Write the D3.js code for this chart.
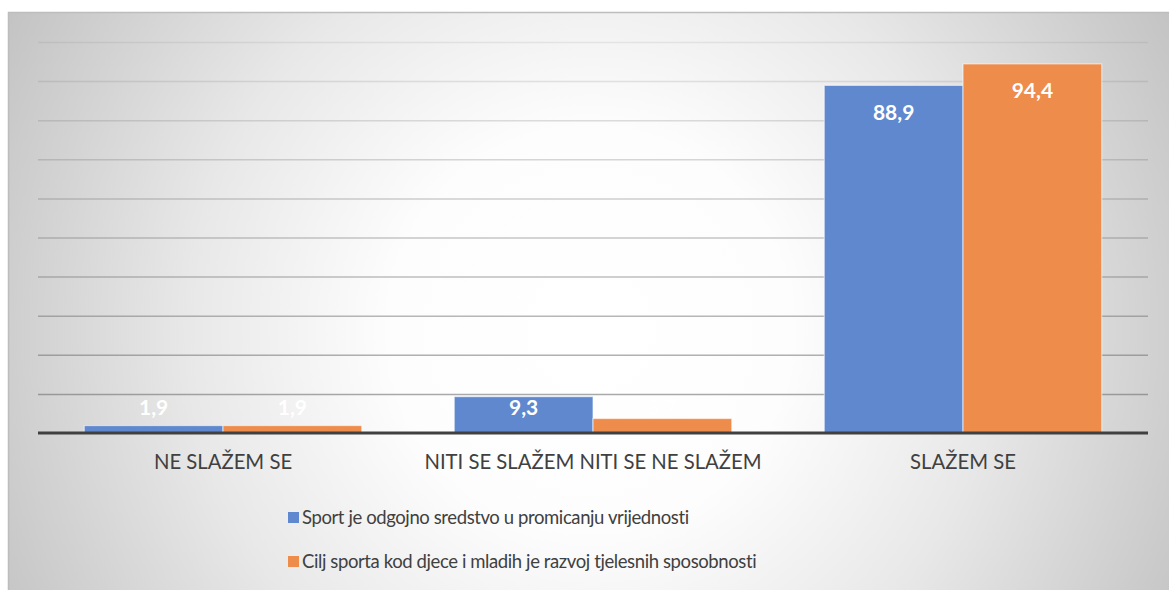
<!DOCTYPE html>
<html>
<head>
<meta charset="utf-8">
<script src="https://cdn.jsdelivr.net/npm/d3@7"></script>
<style>
  body { margin: 0; background: #fff; }
  svg { display: block; font-family: Lato, "Open Sans", sans-serif; }
</style>
</head>
<body>
<div class="canvas"></div>
<script>
// data
const categories = ['NE SLAŽEM SE', 'NITI SE SLAŽEM NITI SE NE SLAŽEM', 'SLAŽEM SE'];
const seriesNames = [
  'Sport je odgojno sredstvo u promicanju vrijednosti',
  'Cilj sporta kod djece i mladih je razvoj tjelesnih sposobnosti'
];
const sportValues = [1.9, 9.3, 88.9];
const ciljValues = [1.9, 3.7, 94.4];
const yTicks = [0, 10, 20, 30, 40, 50, 60, 70, 80, 90, 100];

const colors = ['#5f88cf', '#ee8c4c'];

const width = 1169, height = 590;
const margin = { top: 42, right: 21, bottom: 157, left: 38 };

const svg = d3.select('.canvas')
  .append('svg')
  .attr('width', width)
  .attr('height', height);

// background gradient
const defs = svg.append('defs');
const grad = defs.append('radialGradient')
  .attr('id', 'bg')
  .attr('gradientUnits', 'userSpaceOnUse')
  .attr('cx', 590).attr('cy', 330).attr('r', 670);
grad.append('stop').attr('offset', '0%').attr('stop-color', '#ffffff');
grad.append('stop').attr('offset', '30%').attr('stop-color', '#fdfdfd');
grad.append('stop').attr('offset', '60%').attr('stop-color', '#e8e8e8');
grad.append('stop').attr('offset', '100%').attr('stop-color', '#c2c2c2');

svg.append('rect')
  .attr('x', 8).attr('y', 12)
  .attr('width', width - 8).attr('height', height - 12)
  .attr('fill', 'url(#bg)');
// top + left border
svg.append('path')
  .attr('d', `M8.5,${height} V12.5 H${width}`)
  .attr('fill', 'none')
  .attr('stroke', '#bdbdbd')
  .attr('stroke-width', 1.5);

const graphWidth = width - margin.left - margin.right;
const graphHeight = height - margin.top - margin.bottom;
const graph = svg.append('g')
  .attr('transform', `translate(${margin.left}, ${margin.top})`);

// scales
const y = d3.scaleLinear().domain([0, 100]).range([graphHeight, 0]);
const x0 = d3.scaleBand()
  .domain(categories)
  .range([0, graphWidth])
  .paddingInner(0.25)
  .paddingOuter(0.125);
const x1 = d3.scaleBand()
  .domain([0, 1])
  .range([0, x0.bandwidth()]);

// gridlines
const opac = d3.scaleLinear().domain([100, 10]).range([0.12, 0.6]);
graph.append('g')
  .selectAll('line')
  .data(yTicks.filter(d => d > 0))
  .enter().append('line')
  .attr('x1', 0).attr('x2', graphWidth)
  .attr('y1', d => y(d) + 0.5).attr('y2', d => y(d) + 0.5)
  .attr('stroke', '#6f6f6f')
  .attr('stroke-opacity', d => opac(d))
  .attr('stroke-width', 1.5);

// bars
const rows = categories.map((c, i) => ({ cat: c, vals: [sportValues[i], ciljValues[i]] }));
const groups = graph.selectAll('g.cat')
  .data(rows)
  .enter().append('g')
  .attr('class', 'cat')
  .attr('transform', d => `translate(${x0(d.cat)},0)`);

groups.selectAll('rect')
  .data(d => d.vals.map((v, s) => ({ v, s })))
  .enter().append('rect')
  .attr('x', d => x1(d.s))
  .attr('width', x1.bandwidth())
  .attr('y', d => y(d.v))
  .attr('height', d => graphHeight - y(d.v))
  .attr('fill', d => colors[d.s])
  .attr('stroke', 'rgba(255,255,255,0.55)')
  .attr('stroke-width', 1.2);

groups.selectAll('text')
  .data(d => d.vals.map((v, s) => ({ v, s })))
  .enter().append('text')
  .attr('x', d => x1(d.s) + x1.bandwidth() / 2)
  .attr('y', d => Math.min(y(d.v) + 27, graphHeight - 25))
  .attr('dy', '0.35em')
  .attr('text-anchor', 'middle')
  .attr('fill', '#ffffff')
  .attr('font-weight', 'bold')
  .attr('font-size', 21)
  .text(d => d3.format('.1f')(d.v).replace('.', ','));

// baseline
graph.append('line')
  .attr('x1', 0).attr('x2', graphWidth)
  .attr('y1', graphHeight).attr('y2', graphHeight)
  .attr('stroke', '#404040')
  .attr('stroke-width', 3);

// x axis labels
const xAxis = d3.axisBottom(x0).tickSize(0).tickPadding(22);
const xAxisGroup = graph.append('g')
  .attr('transform', `translate(0, ${graphHeight})`)
  .call(xAxis);
xAxisGroup.select('.domain').remove();
xAxisGroup.selectAll('text')
  .attr('font-family', 'Lato, sans-serif')
  .attr('font-size', 20.3)
  .attr('fill', '#404040');

// legend
const legend = svg.append('g')
  .selectAll('g')
  .data(seriesNames)
  .enter().append('g')
  .attr('transform', (d, i) => `translate(288, ${518 + i * 44})`);
legend.append('rect')
  .attr('x', 0).attr('y', -6)
  .attr('width', 11).attr('height', 11)
  .attr('fill', (d, i) => colors[i]);
legend.append('text')
  .attr('x', 14)
  .attr('dy', '0.35em')
  .attr('font-size', 18.5)
  .attr('letter-spacing', -0.4)
  .attr('fill', '#404040')
  .text(d => d);
</script>
</body>
</html>
